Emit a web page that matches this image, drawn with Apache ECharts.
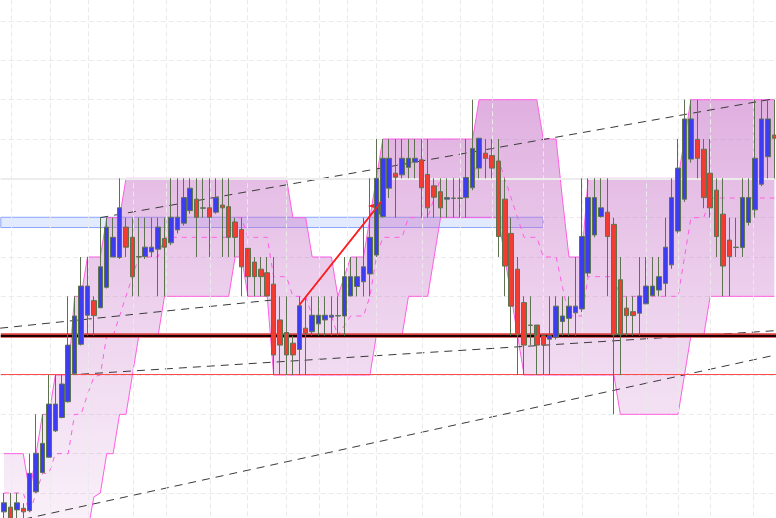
<!DOCTYPE html>
<html><head><meta charset="utf-8">
<script src="https://cdn.jsdelivr.net/npm/echarts/dist/echarts.min.js"></script>
<style>html,body{margin:0;padding:0;background:#fff;overflow:hidden}#c{width:776px;height:518px}</style>
</head><body><div id="c"></div>
<script>
// ---- data (price units; grid step = 10) ----
const categories = Array.from({length: 121}, (_, i) => 'B' + i);
// [open, close, low, high]
const candles = [
[95.2,97.5,92,100],[96.4,92.5,90,100],[95.7,97.5,92,100],[96.1,95.2,92,97.4],[95.5,105.0,95.2,110],
[100.3,110.1,100,120],[105.2,112.6,105,120],[109.1,122.6,109,130],[115.8,122.6,115.5,130],[119.2,127.7,119,130],
[123.2,137.6,123,150],[130.3,145.0,130,150],[137.8,152.6,137.5,160],[145.2,152.6,140,160],[148.9,145.1,140,150],
[147.1,157.5,147,170],[152.3,167.6,152,170],[160.0,165.0,160,170],[159.9,172.5,159.5,180],[167.6,162.5,160,170],
[165.0,155.0,150,170],[160.1,160.0,150,170],[160.1,162.5,159.5,170],[161.3,162.5,160,170],[162.0,167.6,150,170],
[164.7,162.5,150,170],[163.6,170.1,163,180],[166.9,170.1,166,180],[168.6,175.1,168,180],[171.8,177.5,171,180],
[174.7,170.1,160,180],[172.4,172.5,170,180],[172.5,170.1,160,180],[171.4,175.1,171,180],[173.2,172.5,160,180],
[172.8,165.0,160,180],[168.9,165.0,160,170],[167.0,157.5,150,170],[162.2,155.0,150,160],[158.7,155.0,150,160],
[156.9,155.0,150,160],[156.0,150.1,150,160],[153.1,135.1,130,160],[144.0,137.6,130,150],[140.8,135.1,130,150],
[138.1,135.1,130,140],[136.5,147.6,130,150],[141.9,140.6,130,150],[141.0,145.2,140,150],[143.0,145.2,140,150],
[144.0,145.2,140,150],[144.7,145.2,140,150],[145.0,145.1,140,150],[145.0,155.0,140,160],[150.1,155.0,150,160],
[152.5,155.0,150,160],[153.7,157.5,150,170],[155.7,165.0,150,180],[160.5,180.0,160,190],[170.3,185.1,170,190],
[177.5,185.1,175,190],[181.3,180.3,170,190],[180.9,185.1,180,190],[182.8,185.1,180,190],[184.1,185.1,180,190],
[184.7,177.6,170,190],[181.0,172.5,170,190],[178.1,175.2,170,180],[176.6,172.5,170,180],[174.7,175.1,170,180],
[174.9,175.0,170,180],[174.9,175.0,170,180],[175.1,180.2,170,190],[177.6,187.6,177,200],[182.6,190.2,180,190.2],
[186.4,185.1,180,190],[185.8,182.6,180,190],[184.4,165.2,160,190],[174.7,157.7,150,180],[166.0,147.5,140,170],
[156.9,140.2,130,160],[148.4,137.6,130,150],[142.7,142.6,137.6,150],[142.7,137.6,130,140],[140.0,137.6,130,140],
[139.1,140.0,130,150],[139.6,147.5,139,150],[143.6,145.0,140,150],[144.4,147.5,140,150],[145.8,147.5,140,160],
[146.8,165.2,146,180],[155.9,175.1,155,180],[165.6,175.1,165,180],[170.3,172.5,170,180],[171.4,165.2,150,180],
[168.3,140.2,120,170],[154.2,140.2,130,160],[147.0,145.1,140,150],[146.1,145.1,140,150],[145.7,150.1,140,160],
[148.1,152.6,148,160],[150.2,152.6,150,160],[151.6,155.0,150,160],[153.3,162.5,150,170],[158.0,175.1,157,180],
[166.6,182.6,166,190],[174.7,195.1,174,200],[184.9,195.1,184,200],[189.9,185.1,180,200],[187.4,175.1,172.4,190],
[181.3,172.5,170,190],[177.0,165.2,160,180],[170.9,157.7,150,180],[164.3,160.1,150,170],[162.4,162.5,160,170],
[162.4,175.1,160,180],[168.8,175.1,168,180],[172.0,185.1,170,200],[178.5,195.1,178,200],[185.5,195.1,180,200],
[191.0,190.2,180,200]
];
// channel upper / lower, one value per bar
const bandUpper = [
110,110,110,110,100,110,120,120,130,130,
130,150,150,160,160,160,170,170,170,180,
180,180,180,180,180,180,180,180,180,180,
180,180,180,180,180,180,180,180,180,180,
180,180,180,180,180,170,170,170,160,160,
160,160,150,155,160,160,160,170,180,190,
190,190,190,190,190,190,190,190,190,190,
190,190,190,190,200,200,200,200,200,200,
200,200,200,200,190,190,190,174.5,160,160,
160,180,180,180,180,180,180,180,180,180,
180,180,180,180,180,180,190,200,200,200,
200,200,200,200,200,200,200,200,200,200,
200
];
const bandLower = [
90,90,90,90,90,90,90,90,90,90,
90,90,90,90,99,100,110,110,120,120,
130,140,140,140,140,150,150,150,150,150,
150,150,150,150,150,150,160,160,150,150,
150,150,130,130,130,130,130,130,130,130,
130,130,130,130,130,130,130,130,140,140,
140,140,140,150,150,150,150,160,170,170,
170,170,170,170,170,170,170,170,160,150,
140,130,130,130,130,130,130,130,130,130,
130,130,130,130,130,130,120,120,120,120,
120,120,120,120,120,120,130,140,140,140,
150,150,150,150,150,150,150,150,150,150,
150
];
// vertical grid positions (bar index units)
const verticalGridAt = [1.1,7.2,13.1,20.1,25.2,32.1,37.9,44.0,49.1,53.4,58.0,65.1,71.0,76.0,84.0,90.0,100.1,105.0,110.0,116.7];
// dashed trend lines [barIndex, price]
const trend1 = [[15, 170], [120.5, 200.4]];
const trend2 = [[-0.6, 141.9], [42, 149.1]];
const trend3 = [[12, 130.2], [120.5, 141.3]];
const trend4 = [[1, 92.6], [120.5, 135.2]];
const arrowFrom = [46, 147.8];
const arrowTo = [58.8, 174.1];
const blueZone = [-0.62, 83.96, 167.5, 170.1];
const levelThick = 140.1;
const levelRed = 130.2;
const levelGray = 180;

// ---- derived tables ----
const bandWidth = bandUpper.map((u, i) => +(u - bandLower[i]).toFixed(2));
const bandMid = bandUpper.map((u, i) => (u + bandLower[i]) / 2);

const chart = echarts.init(document.getElementById('c'), null, {renderer: 'canvas'});
const pink = '#ff5fe3';
const dashLine = (name, pts) => ({
  name, type: 'line', xAxisIndex: 1, yAxisIndex: 0, data: pts, symbol: 'none', z: 4, silent: true,
  lineStyle: {color: '#3a3a3a', width: 1, type: [8, 6]}
});

chart.setOption({
  animation: false,
  backgroundColor: '#ffffff',
  grid: {left: 0.8, right: -1.6, top: -18.3, bottom: -14.3, containLabel: false, outerBoundsMode: 'none'},
  xAxis: [
    {type: 'category', data: categories, boundaryGap: true, show: false},
    {type: 'value', min: -0.5, max: 120.5, show: false}
  ],
  yAxis: [{
    type: 'value', min: 90, max: 230, interval: 10, scale: false,
    axisLine: {show: false}, axisTick: {show: false}, axisLabel: {show: false},
    splitLine: {show: true, lineStyle: {color: '#eaeaea', width: 1, type: [5, 3]}}
  }],
  series: [
    {
      name: 'grid', type: 'line', xAxisIndex: 1, data: [], z: 0, silent: true,
      markLine: {
        silent: true, symbol: 'none', label: {show: false},
        lineStyle: {color: '#eaeaea', width: 1, type: [5, 3]},
        data: verticalGridAt.map(v => ({xAxis: v})).concat([
          {yAxis: levelGray, lineStyle: {color: '#ececec', width: 2, type: 'solid'}}
        ])
      }
    },
    {
      name: 'lower', type: 'line', xAxisIndex: 0, stack: 'band', data: bandLower, symbol: 'none', z: 1,
      lineStyle: {color: pink, width: 1}
    },
    {
      name: 'upper', type: 'line', xAxisIndex: 0, stack: 'band', data: bandWidth, symbol: 'none', z: 1,
      lineStyle: {color: pink, width: 1},
      areaStyle: {
        color: {type: 'linear', x: 0, y: 99, x2: 0, y2: 518, global: true,
          colorStops: [{offset: 0, color: 'rgba(198,110,198,0.55)'}, {offset: 1, color: 'rgba(205,130,205,0.12)'}]},
        opacity: 1
      }
    },
    {
      name: 'mid', type: 'line', xAxisIndex: 0, data: bandMid, symbol: 'none', z: 2,
      lineStyle: {color: pink, width: 1, type: [5, 5]}
    },
    {
      name: 'zone', type: 'line', xAxisIndex: 1, data: [], z: 3, silent: true,
      markArea: {
        silent: true, label: {show: false},
        itemStyle: {color: 'rgba(185,205,255,0.42)', borderColor: '#8ea6ff', borderWidth: 1},
        data: [[{xAxis: blueZone[0], yAxis: blueZone[2]}, {xAxis: blueZone[1], yAxis: blueZone[3]}]]
      }
    },
    dashLine('t1', trend1), dashLine('t2', trend2), dashLine('t3', trend3), dashLine('t4', trend4),
    {
      name: 'price', type: 'candlestick', xAxisIndex: 0, data: candles, barWidth: 5, z: 5,
      itemStyle: {color: '#3c3cf2', color0: '#f23c32', borderColor: '#5d7350', borderColor0: '#5d7350', borderWidth: 1}
    },
    {
      name: 'levels', type: 'line', xAxisIndex: 1, data: [], z: 6, silent: true,
      markLine: {
        silent: true, symbol: 'none', label: {show: false},
        data: [
          {yAxis: levelThick, lineStyle: {color: '#d84040', width: 4.5, type: 'solid'}},
          {yAxis: levelThick, lineStyle: {color: '#1c0000', width: 2.2, type: 'solid'}},
          {yAxis: levelRed, lineStyle: {color: '#ff4a4a', width: 1, type: 'solid'}}
        ]
      }
    },
    {
      name: 'arrow', type: 'line', xAxisIndex: 1, data: [arrowFrom, arrowTo], z: 7, silent: true,
      symbol: 'none', lineStyle: {color: '#ff2020', width: 1.5}
    },
    {
      name: 'arrowHead', type: 'line', xAxisIndex: 1, data: [], z: 8, silent: true,
      markLine: {
        silent: true, symbol: ['none', 'arrow'], symbolSize: 12, label: {show: false},
        lineStyle: {color: '#ff2020', width: 1.5, type: 'solid'},
        itemStyle: {color: '#ff2020'},
        data: [[{coord: arrowFrom, symbol: 'none'}, {coord: arrowTo, symbol: 'arrow', symbolSize: 12}]]
      }
    }
  ]
});
</script>
</body></html>
